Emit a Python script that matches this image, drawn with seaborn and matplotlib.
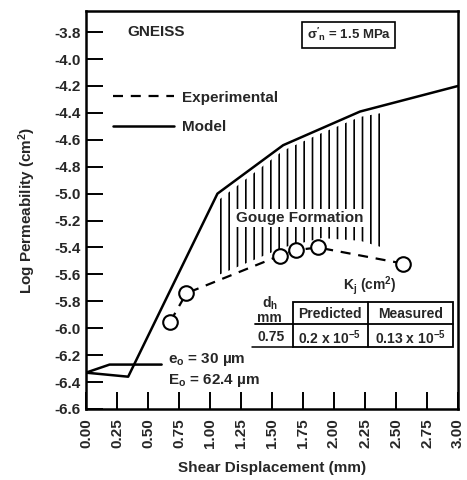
import matplotlib
matplotlib.use("Agg")
import matplotlib.pyplot as plt
from matplotlib.lines import Line2D
from matplotlib.patches import Rectangle
import seaborn as sns

# ---------------- data ----------------
model_x = [0.00, 0.34, 1.06, 1.59, 2.21, 3.00]
model_y = [-6.33, -6.36, -5.00, -4.64, -4.39, -4.20]

exp_x = [0.68, 0.81, 1.565, 1.69, 1.87, 2.56]
exp_y = [-5.95, -5.74, -5.46, -5.42, -5.40, -5.52]

init_x = [0.00, 0.19, 0.61]
init_y = [-6.33, -6.27, -6.27]

gouge_x = [1.08, 1.59, 1.90, 2.21, 2.39]
gouge_top = [-5.04, -4.68, -4.55, -4.43, -4.40]
gouge_bottom = [-5.60, -5.40, -5.33, -5.35, -5.40]

x_ticks = [0.00, 0.25, 0.50, 0.75, 1.00, 1.25, 1.50, 1.75, 2.00, 2.25, 2.50, 2.75, 3.00]
y_ticks = [-3.8, -4.0, -4.2, -4.4, -4.6, -4.8, -5.0, -5.2, -5.4, -5.6, -5.8, -6.0, -6.2, -6.4, -6.6]

table_header = ["Predicted", "Measured"]
table_row = ["0.75", r"0.2 x 10$^{-5}$", r"0.13 x 10$^{-5}$"]

# ---------------- style ----------------
sns.set_theme(style="ticks")
plt.rcParams["font.family"] = ["Liberation Sans", "DejaVu Sans"]
plt.rcParams["font.weight"] = "bold"
plt.rcParams["axes.labelweight"] = "bold"
plt.rcParams["mathtext.fontset"] = "custom"
plt.rcParams["mathtext.rm"] = "Liberation Sans:bold"
plt.rcParams["mathtext.it"] = "Liberation Sans:italic:bold"
plt.rcParams["mathtext.bf"] = "Liberation Sans:bold"
plt.rcParams["mathtext.default"] = "rm"
plt.rcParams["axes.unicode_minus"] = False
plt.rcParams["hatch.linewidth"] = 1.2
plt.rcParams["hatch.color"] = "black"

fig = plt.figure(figsize=(4.67, 4.80), dpi=100)
ax = fig.add_axes([86 / 467, 1 - 409 / 480, 372 / 467, 398 / 480])

fs = 11

# hatched gouge region
ax.fill_between(gouge_x, gouge_bottom, gouge_top, facecolor="none",
                edgecolor="black", hatch="||", linewidth=0)

# model line
sns.lineplot(x=model_x, y=model_y, ax=ax, color="black", linewidth=1.8,
             estimator=None, sort=False)
sns.lineplot(x=init_x, y=init_y, ax=ax, color="black", linewidth=1.8,
             estimator=None, sort=False)

# experimental
ax.plot(exp_x, exp_y, color="black", linestyle=(0, (4.5, 3.5)), linewidth=1.6,
        marker="o", markersize=10.5, markerfacecolor="white",
        markeredgecolor="black", markeredgewidth=1.5, zorder=4)

ax.set_xlim(0, 3.0)
ax.set_ylim(-6.6, -3.643)
ax.set_xticks(x_ticks)
ax.set_xticklabels([f"{v:.2f}" for v in x_ticks], rotation=90, fontsize=fs)
ax.set_yticks(y_ticks)
ax.set_yticklabels([f"{v:.1f}" for v in y_ticks], fontsize=fs)
ax.tick_params(axis="both", direction="in", length=12, width=1.4, color="black")
ax.tick_params(axis="y", pad=4)
ax.tick_params(axis="x", pad=7)
for s in ax.spines.values():
    s.set_visible(True)
    s.set_linewidth(1.8)
    s.set_color("black")

ax.set_xlabel("Shear Displacement (mm)", fontsize=fs, fontweight="bold")
ax.set_ylabel("Log Permeability (cm$^2$)", fontsize=fs, fontweight="bold")
ax.xaxis.set_label_coords(0.5, -0.13)
ax.yaxis.set_label_coords(-0.128, 0.5)

# legend
handles = [Line2D([], [], color="black", linestyle=(0, (4.5, 3.5)), linewidth=1.6),
           Line2D([], [], color="black", linewidth=1.8)]
leg = ax.legend(handles, ["Experimental", "Model"], loc="upper left",
                bbox_to_anchor=(0.072, 0.80), frameon=False, fontsize=fs,
                handlelength=4.0, handletextpad=0.5, labelspacing=1.0,
                borderpad=0, borderaxespad=0)

# texts
ax.text(0.33, -3.80, "GNEISS", fontsize=fs, va="center", ha="left")
ax.text(2.12, -3.82, r"$\sigma'_\mathrm{n}$ = 1.5 MPa", fontsize=9.5,
        va="center", ha="center",
        bbox=dict(boxstyle="square,pad=0.33", fc="white", ec="black", lw=1.2))
ax.text(1.726, -5.18, "Gouge Formation", fontsize=fs, ha="center", va="center",
        bbox=dict(boxstyle="square,pad=0.12", fc="white", ec="none"), zorder=5)
ax.text(0.66, -6.235, r"e$_\mathrm{o}$ = 30 µm", fontsize=fs, ha="left", va="center")
ax.text(0.66, -6.385, r"E$_\mathrm{o}$ = 62.4 µm", fontsize=fs, ha="left", va="center")

# table
tfs = 10
ax.text(2.29, -5.685, r"K$_\mathrm{j}$ (cm$^2$)", fontsize=tfs, ha="center", va="center")
ax.text(1.48, -5.815, r"d$_\mathrm{h}$", fontsize=tfs, ha="center", va="center")
ax.text(1.48, -5.925, "mm", fontsize=tfs, ha="center", va="center")
ax.text(1.97, -5.894, table_header[0], fontsize=tfs, ha="center", va="center")
ax.text(2.615, -5.894, table_header[1], fontsize=tfs, ha="center", va="center")
ax.text(1.49, -6.065, table_row[0], fontsize=tfs, ha="center", va="center")
ax.text(1.965, -6.07, table_row[1], fontsize=tfs, ha="center", va="center")
ax.text(2.615, -6.07, table_row[2], fontsize=tfs, ha="center", va="center")
ax.add_patch(Rectangle((1.669, -6.14), 2.96 - 1.669, 0.335, fill=False,
                       ec="black", lw=1.3))
ax.plot([2.274, 2.274], [-6.14, -5.805], color="black", lw=1.3)
ax.plot([1.36, 2.96], [-5.969, -5.969], color="black", lw=1.3)
ax.plot([1.34, 1.669], [-6.14, -6.14], color="black", lw=1.1)

fig.savefig("out.png", dpi=100)
